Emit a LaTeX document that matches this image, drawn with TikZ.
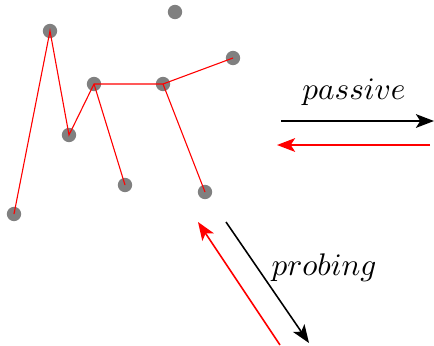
\documentclass[tikz,border=0pt]{standalone}
\usetikzlibrary{arrows.meta}
\begin{document}
\begin{tikzpicture}[x=0.32pt,y=-0.32pt,
  dot/.style={circle,fill=gray,inner sep=0pt,minimum size=4.6pt},
  edge/.style={red,line width=0.35pt},
  arr/.style={line width=0.5pt,-{Stealth[length=5.8pt,width=4.4pt,inset=1.4pt]}},
  lbl/.style={inner sep=0pt}]
\useasboundingbox (0,0) rectangle (434,345);
\node[dot] (a) at (175,12) {};
\node[dot] (b) at (50,31) {};
\node[dot] (c) at (233,58) {};
\node[dot] (d) at (94,84) {};
\node[dot] (e) at (163,84) {};
\node[dot] (f) at (69,135) {};
\node[dot] (g) at (125,185) {};
\node[dot] (h) at (205,192) {};
\node[dot] (i) at (14,214) {};
\draw[edge] (i.center) -- (b.center) -- (f.center) -- (d.center) -- (e.center) -- (c.center);
\draw[edge] (d.center) -- (g.center);
\draw[edge] (e.center) -- (h.center);
\coordinate (p1) at (281,121);
\coordinate (p2) at (434,121);
\coordinate (p3) at (430,145);
\coordinate (p4) at (277,145);
\draw[arr] (p1) -- (p2);
\draw[arr,red] (p3) -- (p4);
\node[lbl] (pl) at (354,92) {$passive$};
\coordinate (q1) at (226,222);
\coordinate (q2) at (309,343);
\coordinate (q3) at (280,345);
\coordinate (q4) at (198,222);
\draw[arr] (q1) -- (q2);
\draw[arr,red] (q3) -- (q4);
\node[lbl] (ql) at (324,268) {$probing$};
\end{tikzpicture}
\end{document}
